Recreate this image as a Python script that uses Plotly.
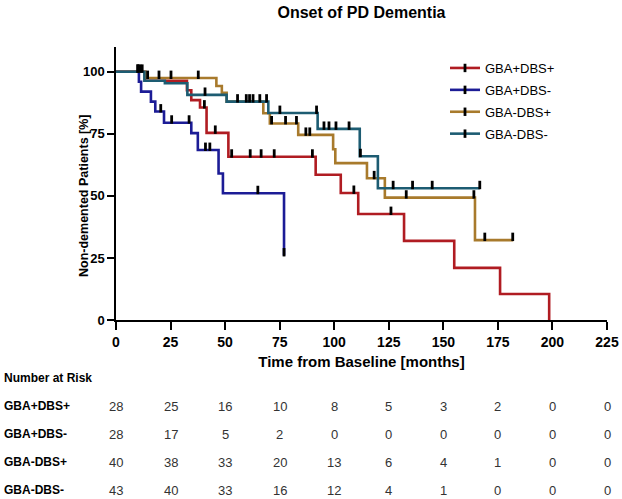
import plotly.graph_objects as go

# ---------------- data ----------------
groups = ["GBA+DBS+", "GBA+DBS-", "GBA-DBS+", "GBA-DBS-"]
colors = ["#B01C22", "#1C1C96", "#A87A2C", "#1D5C72"]

# step times (months) and survival levels (%)
red_t = [0, 13.3, 32.5, 34.5, 38.5, 41.5, 51.5, 91.5, 103, 111, 132, 155, 176, 198.5]
red_s = [100, 96.4, 92.6, 88.6, 85.6, 75.4, 65.8, 58.5, 51.2, 42.7, 31.9, 21.0, 10.5, 0]
red_end = 198.5
red_cens = [10, 40.5, 45.5, 53, 61.5, 66.5, 72.5, 90, 109, 126]

blue_t = [0, 10.5, 11.5, 16, 18, 22, 34.5, 37.5, 47, 49, 77]
blue_s = [100, 96, 92, 88, 84, 79.5, 75.3, 68.5, 59, 51.1, 26]
blue_end = 77
blue_cens = [10, 20.5, 25.5, 33.5, 41, 43, 65, 77]

gold_t = [0, 13.5, 46, 48.5, 50.7, 67.5, 70.5, 83.5, 99.5, 100.5, 115, 123.2, 164.5]
gold_s = [100, 97.5, 94.3, 91.5, 88, 83.3, 79.2, 74.6, 68.8, 63.2, 57.1, 49.3, 32.2]
gold_end = 182
gold_cens = [11, 14.5, 19.7, 25.2, 37.7, 59.7, 62.8, 71.3, 77.7, 82.7, 87, 88.8,
             118.3, 133, 164, 169, 181.8]

teal_t = [0, 13, 22.4, 32.7, 50.7, 69.8, 92.4, 111.7, 120]
teal_s = [100, 96.4, 95.4, 90.7, 88, 83.4, 77, 66, 53.1]
teal_end = 166.7
teal_cens = [12, 40.8, 55.7, 61.2, 65.9, 69, 75.1, 91.9, 95.3, 97.6, 100.8, 106.8,
             112, 127, 135.9, 144.9, 166.7]

x_ticks = [0, 25, 50, 75, 100, 125, 150, 175, 200, 225]
y_ticks = [0, 25, 50, 75, 100]

risk_rows = {
    "GBA+DBS+": [28, 25, 16, 10, 8, 5, 3, 2, 0, 0],
    "GBA+DBS-": [28, 17, 5, 2, 0, 0, 0, 0, 0, 0],
    "GBA-DBS+": [40, 38, 33, 20, 13, 6, 4, 1, 0, 0],
    "GBA-DBS-": [43, 40, 33, 16, 12, 4, 1, 0, 0, 0],
}

series = [
    (red_t, red_s, red_end, red_cens),
    (blue_t, blue_s, blue_end, blue_cens),
    (gold_t, gold_s, gold_end, gold_cens),
    (teal_t, teal_s, teal_end, teal_cens),
]

# ---------------- layout constants ----------------
W, H = 622, 499
ML, MR, MT, MB = 116, 15, 47, 179
PLOT_H = H - MT - MB
Y_MAX = 110
TICK_LIFT = 1.3  # censor tick sits just above the line (data units)


def step_value(times, levels, t):
    v = levels[0]
    for ti, si in zip(times, levels):
        if ti <= t:
            v = si
    return v


def py2paper(py):
    return (H - MB - py) / PLOT_H


def px2paper(px):
    return (px - ML) / (W - ML - MR)


fig = go.Figure()

for name, col, (t, s, end, cens) in zip(groups, colors, series):
    xs = list(t) + [end]
    ys = list(s) + [s[-1]]
    fig.add_trace(go.Scatter(
        x=xs, y=ys, mode="lines", line=dict(color=col, width=2.6, shape="hv"),
        showlegend=False, hoverinfo="skip"))

for name, col, (t, s, end, cens) in zip(groups, colors, series):
    cy = [step_value(t, s, c) + TICK_LIFT for c in cens]
    fig.add_trace(go.Scatter(
        x=cens, y=cy, mode="markers",
        marker=dict(symbol="line-ns", size=6, line=dict(color="black", width=2.8)),
        showlegend=False, hoverinfo="skip"))

# legend-only entries
for name, col in zip(groups, colors):
    fig.add_trace(go.Scatter(
        x=[None], y=[None], mode="lines+markers", name=name,
        line=dict(color=col, width=2.6),
        marker=dict(symbol="line-ns", size=6, line=dict(color="black", width=2.8)),
        legendgroup=name))

ann = []
ann.append(dict(text="<b>Non-demented Patients [%]</b>", xref="paper", yref="paper",
                x=px2paper(84), y=py2paper(196), xanchor="center", yanchor="middle",
                textangle=-90, showarrow=False, font=dict(size=12.5, color="black")))
ann.append(dict(text="<b>Number at Risk</b>", xref="paper", yref="paper",
                x=px2paper(2), y=py2paper(378), xanchor="left", yanchor="middle",
                showarrow=False, font=dict(size=12, color="black")))
row_py = [406, 434, 462, 490]
for (label, vals), py in zip(risk_rows.items(), row_py):
    ann.append(dict(text="<b>" + label + "</b>", xref="paper", yref="paper",
                    x=px2paper(2), y=py2paper(py), xanchor="left", yanchor="middle",
                    showarrow=False, font=dict(size=12, color="black")))
    for xv, v in zip(x_ticks, vals):
        ann.append(dict(text=str(v), xref="x", yref="paper", x=xv, y=py2paper(py),
                        xanchor="center", yanchor="middle", showarrow=False,
                        font=dict(size=13, color="#333333")))

fig.update_layout(
    width=W, height=H,
    margin=dict(l=ML, r=MR, t=MT, b=MB, autoexpand=False),
    plot_bgcolor="white", paper_bgcolor="white",
    font=dict(family="Liberation Sans, Arial, sans-serif", color="black"),
    title=dict(text="<b>Onset of PD Dementia</b>", x=0.5, xref="paper",
               y=1 - 12 / H, yref="container", xanchor="center", yanchor="middle",
               font=dict(size=16, color="black")),
    xaxis=dict(range=[0, 225], tickvals=x_ticks, ticks="outside", ticklen=8,
               tickwidth=1.5, tickcolor="black", showline=True, linecolor="black",
               linewidth=1.5, showgrid=False, zeroline=False,
               tickfont=dict(size=14, weight="bold"),
               title=dict(text="Time from Baseline [months]", standoff=8,
                          font=dict(size=15, weight="bold"))),
    yaxis=dict(range=[0, Y_MAX], tickvals=y_ticks, ticks="outside", ticklen=7,
               tickwidth=1.5, tickcolor="black", showline=True, linecolor="black",
               linewidth=1.5, showgrid=False, zeroline=False,
               tickfont=dict(size=13, weight="bold")),
    legend=dict(x=px2paper(445), y=py2paper(53), xanchor="left", yanchor="top",
                font=dict(size=13, color="black"), bgcolor="rgba(0,0,0,0)",
                tracegroupgap=2, itemwidth=30),
    annotations=ann,
)

fig.write_html("out.html")
